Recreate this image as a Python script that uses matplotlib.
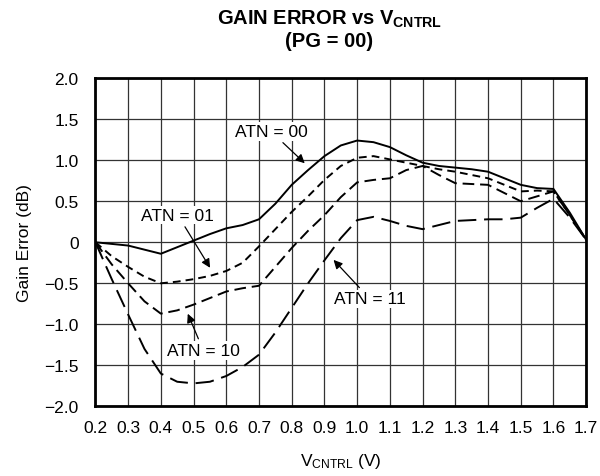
import matplotlib
matplotlib.use('Agg')
import matplotlib.pyplot as plt

plt.rcParams['font.family'] = ['Liberation Sans', 'DejaVu Sans']
plt.rcParams['mathtext.default'] = 'regular'
plt.rcParams['axes.unicode_minus'] = True

vcntrl = [0.2, 0.25, 0.3, 0.35, 0.4, 0.45, 0.5, 0.55, 0.6, 0.65, 0.7, 0.75, 0.8, 0.85,
          0.9, 0.95, 1.0, 1.05, 1.1, 1.15, 1.2, 1.25, 1.3, 1.35, 1.4, 1.45, 1.5, 1.55,
          1.6, 1.65, 1.7]

atn00 = [0, -0.02, -0.04, -0.09, -0.14, -0.06, 0.02, 0.10, 0.17, 0.21, 0.28, 0.47, 0.70,
         0.88, 1.05, 1.18, 1.24, 1.22, 1.16, 1.06, 0.97, 0.93, 0.91, 0.89, 0.86, 0.78,
         0.70, 0.66, 0.65, 0.36, 0.03]
atn01 = [0, -0.17, -0.30, -0.42, -0.50, -0.48, -0.45, -0.41, -0.35, -0.25, -0.05, 0.16,
         0.37, 0.56, 0.76, 0.93, 1.03, 1.05, 1.01, 0.97, 0.93, 0.89, 0.86, 0.82, 0.78,
         0.70, 0.62, 0.63, 0.62, 0.33, 0.03]
atn10 = [0, -0.27, -0.50, -0.72, -0.87, -0.83, -0.76, -0.68, -0.60, -0.56, -0.53, -0.30,
         -0.07, 0.14, 0.33, 0.55, 0.73, 0.76, 0.78, 0.88, 0.93, 0.82, 0.72, 0.71, 0.70,
         0.60, 0.50, 0.56, 0.62, 0.33, 0.03]
atn11 = [0, -0.45, -0.88, -1.30, -1.60, -1.70, -1.72, -1.70, -1.63, -1.52, -1.37, -1.10,
         -0.80, -0.50, -0.22, 0.05, 0.27, 0.31, 0.26, 0.20, 0.16, 0.21, 0.26, 0.27, 0.28,
         0.28, 0.30, 0.42, 0.53, 0.30, 0.03]

xticks = [0.2, 0.3, 0.4, 0.5, 0.6, 0.7, 0.8, 0.9, 1.0, 1.1, 1.2, 1.3, 1.4, 1.5, 1.6, 1.7]
yticks = [-2.0, -1.5, -1.0, -0.5, 0, 0.5, 1.0, 1.5, 2.0]
ylabels = ['\u22122.0', '\u22121.5', '\u22121.0', '\u22120.5', '0', '0.5', '1.0', '1.5', '2.0']

fig = plt.figure(figsize=(6, 4.77), dpi=100)
ax = fig.add_axes([0.159, 0.146, 0.818, 0.688])

lw = 1.4
ax.plot(vcntrl, atn00, color='black', lw=lw, solid_joinstyle='round')
ax.plot(vcntrl, atn01, color='black', lw=lw, dashes=(4, 2.6))
ax.plot(vcntrl, atn10, color='black', lw=lw, dashes=(6, 3))
ax.plot(vcntrl, atn11, color='black', lw=lw, dashes=(9.5, 4))

ax.set_xlim(0.2, 1.7)
ax.set_ylim(-2.0, 2.0)
ax.set_xticks(xticks)
ax.set_xticklabels(['%.1f' % v for v in xticks])
ax.set_yticks(yticks)
ax.set_yticklabels(ylabels)
ax.tick_params(length=0, labelsize=12.5)
ax.tick_params(axis='x', pad=10)
ax.tick_params(axis='y', pad=12)
ax.grid(True, color='#333333', lw=0.9)
for s in ax.spines.values():
    s.set_linewidth(2)

ax.set_xlabel('V$_{CNTRL}$ (V)', fontsize=12.5)
ax.xaxis.set_label_coords(0.5, -0.135)
ax.set_ylabel('Gain Error (dB)', fontsize=12.5)
ax.yaxis.set_label_coords(-0.13, 0.5)
fig.text(0.549, 0.96, 'GAIN ERROR vs V$_{CNTRL}$', ha='center', va='center',
         fontsize=14.5, fontweight='bold')
fig.text(0.549, 0.914, '(PG = 00)', ha='center', va='center',
         fontsize=14.5, fontweight='bold')

arrow = dict(arrowstyle='-|>', color='black', lw=0.9, mutation_scale=13)
box = dict(boxstyle='square,pad=0.1', fc='white', ec='none')
ax.annotate('ATN = 00', xy=(0.846, 0.94), xytext=(0.737, 1.35), ha='center', va='center',
            fontsize=12.5, arrowprops=arrow, bbox=box)
ax.annotate('ATN = 01', xy=(0.555, -0.34), xytext=(0.452, 0.33), ha='center', va='center',
            fontsize=12.5, arrowprops=arrow, bbox=box)
ax.annotate('ATN = 10', xy=(0.479, -0.84), xytext=(0.53, -1.32), ha='center', va='center',
            fontsize=12.5, arrowprops=arrow, bbox=box)
ax.annotate('ATN = 11', xy=(0.922, -0.19), xytext=(1.039, -0.69), ha='center', va='center',
            fontsize=12.5, arrowprops=arrow, bbox=box)

fig.savefig('out.png', dpi=100)
